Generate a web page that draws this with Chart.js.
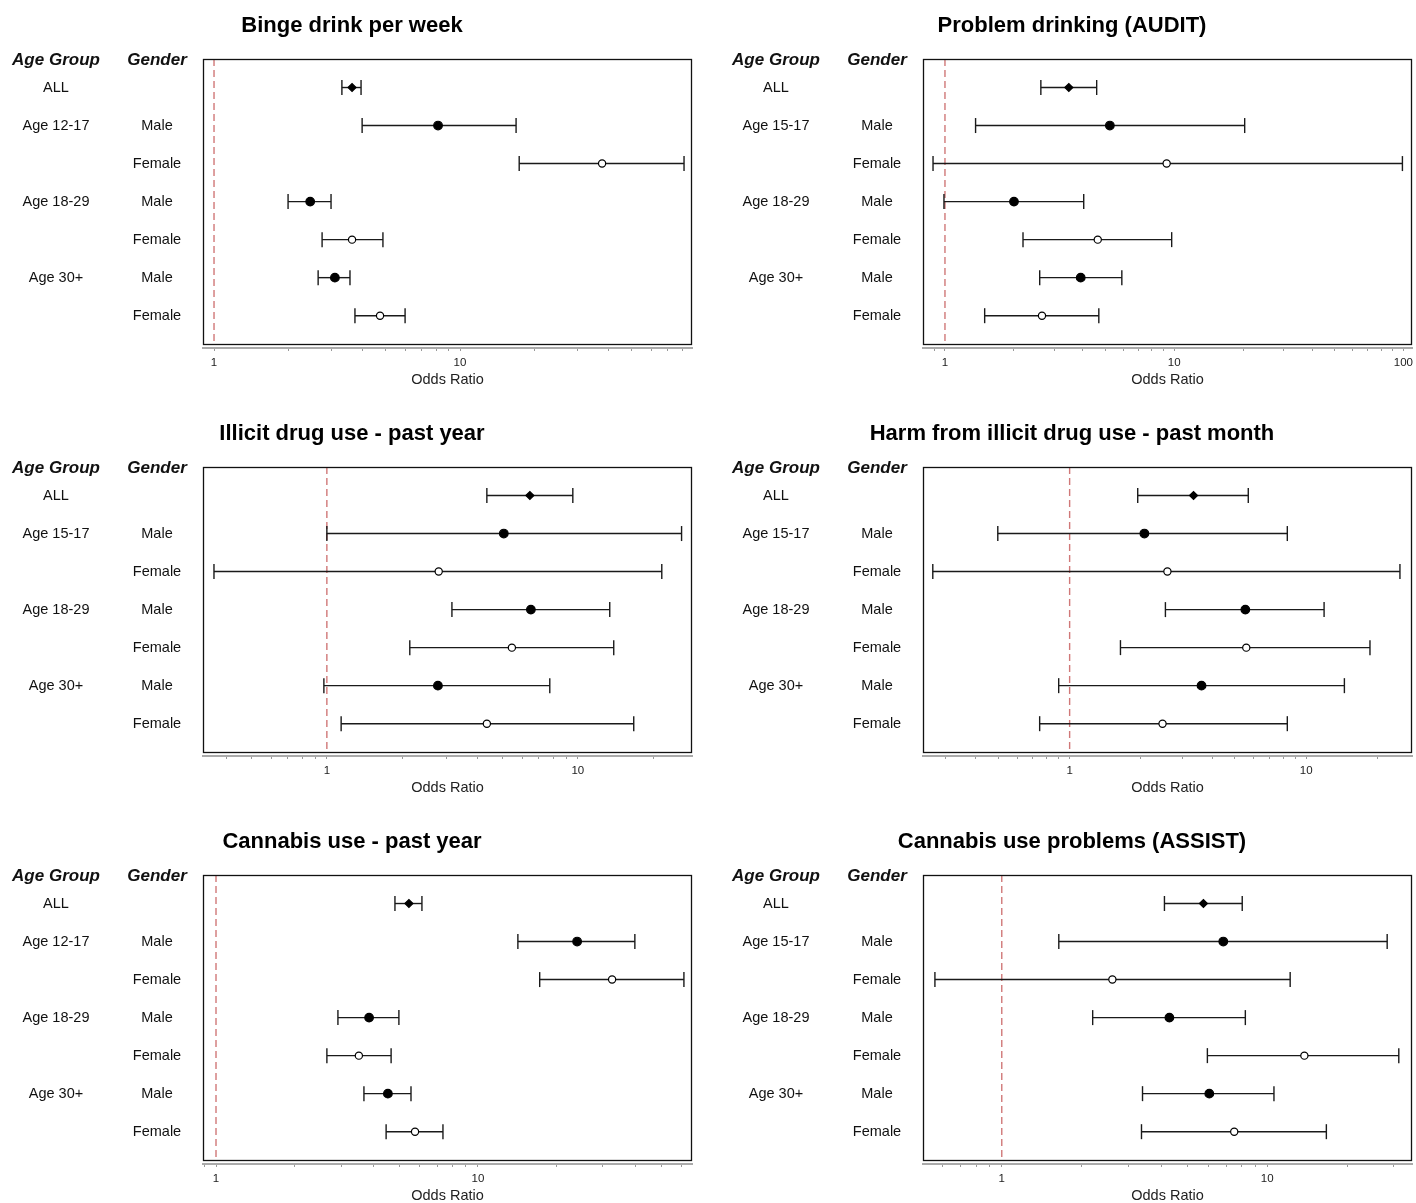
<!DOCTYPE html>
<html>
<head>
<meta charset="utf-8">
<script src="https://cdn.jsdelivr.net/npm/chart.js@4.4.1/dist/chart.umd.min.js"></script>
<style>
  body { margin: 0; background: #fff; overflow: hidden; }
  #wrap { position: relative; width: 1416px; height: 1203px; overflow: hidden; background: #fff; }
  canvas { position: absolute; }
</style>
</head>
<body>
<div id="wrap"></div>
<script>
// row labels
const genderLabels = ['', 'Male', 'Female', 'Male', 'Female', 'Male', 'Female'];
const ageLabels1217 = ['ALL', 'Age 12-17', '', 'Age 18-29', '', 'Age 30+', ''];
const ageLabels1517 = ['ALL', 'Age 15-17', '', 'Age 18-29', '', 'Age 30+', ''];
const rows = [1, 2, 3, 4, 5, 6, 7];

const panelTitles = [
  'Binge drink per week', 'Problem drinking (AUDIT)',
  'Illicit drug use - past year', 'Harm from illicit drug use - past month',
  'Cannabis use - past year', 'Cannabis use problems (ASSIST)'
];
const panelAgeLabels = [ageLabels1217, ageLabels1517, ageLabels1517, ageLabels1517, ageLabels1217, ageLabels1517];

// x axis ranges (odds ratio, log scale)
const xMin = [0.902, 0.802, 0.321, 0.240, 0.892, 0.505];
const xMax = [87.7, 109, 28.5, 28.0, 65.6, 35.1];

// odds ratios and 95% CI per panel
const bingeOR = [3.64, 8.14, 37.8, 2.46, 3.64, 3.10, 4.73];
const bingeLo = [3.31, 4.0, 17.4, 2.0, 2.75, 2.65, 3.74];
const bingeHi = [3.96, 16.9, 81.4, 2.99, 4.86, 3.57, 5.98];

const auditOR = [3.47, 5.24, 9.27, 2.0, 4.64, 3.91, 2.65];
const auditLo = [2.62, 1.36, 0.887, 0.99, 2.19, 2.59, 1.49];
const auditHi = [4.59, 20.3, 99, 4.03, 9.75, 5.91, 4.69];

const illicitOR = [6.44, 5.07, 2.79, 6.50, 5.46, 2.77, 4.34];
const illicitLo = [4.34, 1.0, 0.355, 3.15, 2.14, 0.973, 1.14];
const illicitHi = [9.55, 25.9, 21.6, 13.4, 13.9, 7.73, 16.7];

const harmOR = [3.34, 2.07, 2.59, 5.53, 5.58, 3.61, 2.47];
const harmLo = [1.94, 0.497, 0.264, 2.54, 1.64, 0.899, 0.747];
const harmHi = [5.69, 8.32, 24.9, 11.9, 18.6, 14.5, 8.32];

const cannabisOR = [5.45, 23.9, 32.5, 3.84, 3.51, 4.53, 5.75];
const cannabisLo = [4.82, 14.2, 17.2, 2.92, 2.65, 3.67, 4.46];
const cannabisHi = [6.11, 39.7, 61.1, 4.99, 4.66, 5.55, 7.35];

const assistOR = [5.75, 6.83, 2.61, 4.28, 13.8, 6.05, 7.51];
const assistLo = [4.10, 1.64, 0.560, 2.20, 5.95, 3.39, 3.36];
const assistHi = [8.05, 28.3, 12.2, 8.27, 31.3, 10.6, 16.7];

const oddsRatios = [bingeOR, auditOR, illicitOR, harmOR, cannabisOR, assistOR];
const lowerCI = [bingeLo, auditLo, illicitLo, harmLo, cannabisLo, assistLo];
const upperCI = [bingeHi, auditHi, illicitHi, harmHi, cannabisHi, assistHi];

Chart.defaults.font.family = '"Liberation Sans", Arial, sans-serif';
Chart.defaults.color = '#111';

// frame around the plot region (stops a little above the x axis line)
const framePlugin = {
  id: 'frame',
  afterDatasetsDraw(chart) {
    const { ctx, chartArea } = chart;
    const bottom = Math.round(chart.scales.y.getPixelForValue(7.75));
    ctx.save();
    ctx.strokeStyle = '#111';
    ctx.lineWidth = 1.3;
    ctx.strokeRect(chartArea.left + 0.5, chartArea.top + 0.5, chartArea.right - chartArea.left - 1, bottom - chartArea.top);
    ctx.restore();
  }
};

// the two label columns on the left
const rowLabelPlugin = {
  id: 'rowLabels',
  afterDraw(chart, args, opts) {
    const { ctx } = chart;
    const y = chart.scales.y;
    ctx.save();
    ctx.textAlign = 'center';
    ctx.textBaseline = 'middle';
    ctx.fillStyle = '#111';
    ctx.font = 'italic bold 17px "Liberation Sans", Arial, sans-serif';
    const hy = y.getPixelForValue(0.28);
    ctx.fillText('Age Group', 56, hy);
    ctx.fillText('Gender', 157, hy);
    ctx.font = '14.5px "Liberation Sans", Arial, sans-serif';
    rows.forEach((r, k) => {
      const py = y.getPixelForValue(r);
      if (opts.ageLabels[k]) ctx.fillText(opts.ageLabels[k], 56, py);
      if (genderLabels[k]) ctx.fillText(genderLabels[k], 157, py);
    });
    ctx.restore();
  }
};

const wrap = document.getElementById('wrap');

function makePanel(i) {
  const canvas = document.createElement('canvas');
  canvas.width = 704;
  canvas.height = 408;
  canvas.style.left = (i % 2) * 720 + 'px';
  canvas.style.top = Math.floor(i / 2) * 408 + 'px';
  wrap.appendChild(canvas);

  const or = oddsRatios[i], lo = lowerCI[i], hi = upperCI[i];
  const datasets = [];

  // point estimates
  datasets.push({
    data: rows.map((r, k) => ({ x: or[k], y: r })),
    order: 0,
    showLine: false,
    pointStyle: c => c.dataIndex === 0 ? 'rectRot' : 'circle',
    pointRadius: c => c.dataIndex === 0 ? 4 : (genderLabels[c.dataIndex] === 'Male' ? 4.3 : 3.6),
    pointBackgroundColor: c => genderLabels[c.dataIndex] === 'Female' ? '#fff' : '#000',
    pointBorderColor: '#000',
    pointBorderWidth: 1.2
  });

  // confidence intervals with caps
  rows.forEach((r, k) => {
    datasets.push({
      data: [{ x: lo[k], y: r }, { x: hi[k], y: r }],
      order: 1,
      showLine: true,
      borderColor: '#1a1a1a',
      borderWidth: 1.4,
      pointStyle: 'line',
      pointRotation: 90,
      pointRadius: 7.5,
      pointBorderColor: '#1a1a1a',
      pointBorderWidth: 1.4
    });
  });

  // reference line at OR = 1
  datasets.push({
    data: [{ x: 1, y: 0.25 }, { x: 1, y: 7.75 }],
    order: 2,
    showLine: true,
    borderColor: '#d07878',
    borderWidth: 1.4,
    borderDash: [7, 4],
    pointRadius: 0
  });

  new Chart(canvas, {
    type: 'scatter',
    data: { datasets },
    options: {
      responsive: false,
      animation: false,
      devicePixelRatio: 1,
      events: [],
      layout: { padding: { top: 0, bottom: 19.3, left: 0, right: 0 } },
      plugins: {
        legend: { display: false },
        tooltip: { enabled: false },
        title: {
          display: true,
          text: panelTitles[i],
          color: '#000',
          font: { size: 22, weight: 'bold' },
          padding: { top: 13, bottom: 19.6 }
        },
        rowLabels: { ageLabels: panelAgeLabels[i] }
      },
      scales: {
        x: {
          type: 'logarithmic',
          min: xMin[i],
          max: xMax[i],
          bounds: 'data',
          afterBuildTicks: s => {
            const t = [];
            for (let e = -1; e <= 2; e++) {
              for (let m = 1; m <= 9; m++) {
                const v = m * Math.pow(10, e);
                if (v >= s.min && v <= s.max) t.push({ value: v });
              }
            }
            s.ticks = t;
          },
          afterFit: s => { s.height = 40.7; },
          ticks: {
            autoSkip: false,
            maxRotation: 0,
            padding: 5,
            color: '#222',
            font: { size: 11.5 },
            callback: v => (v === 1 || v === 10 || v === 100) ? String(v) : ''
          },
          grid: { drawOnChartArea: false, drawTicks: true, tickLength: 3, color: '#999' },
          border: { display: true, color: '#aaa', width: 2 },
          title: { display: true, text: 'Odds Ratio', color: '#222', font: { size: 14.5 }, padding: { top: 2.1, bottom: 0 } }
        },
        y: {
          type: 'linear',
          min: 0.25,
          max: 7.85,
          reverse: true,
          bounds: 'data',
          ticks: { display: false },
          grid: { display: false },
          border: { display: false },
          afterFit: s => { s.width = 203; }
        },
        y2: {
          type: 'linear',
          position: 'right',
          ticks: { display: false },
          grid: { display: false },
          border: { display: false },
          afterFit: s => { s.width = 12; }
        }
      }
    },
    plugins: [framePlugin, rowLabelPlugin]
  });
}

for (let i = 0; i < 6; i++) makePanel(i);
</script>
</body>
</html>
